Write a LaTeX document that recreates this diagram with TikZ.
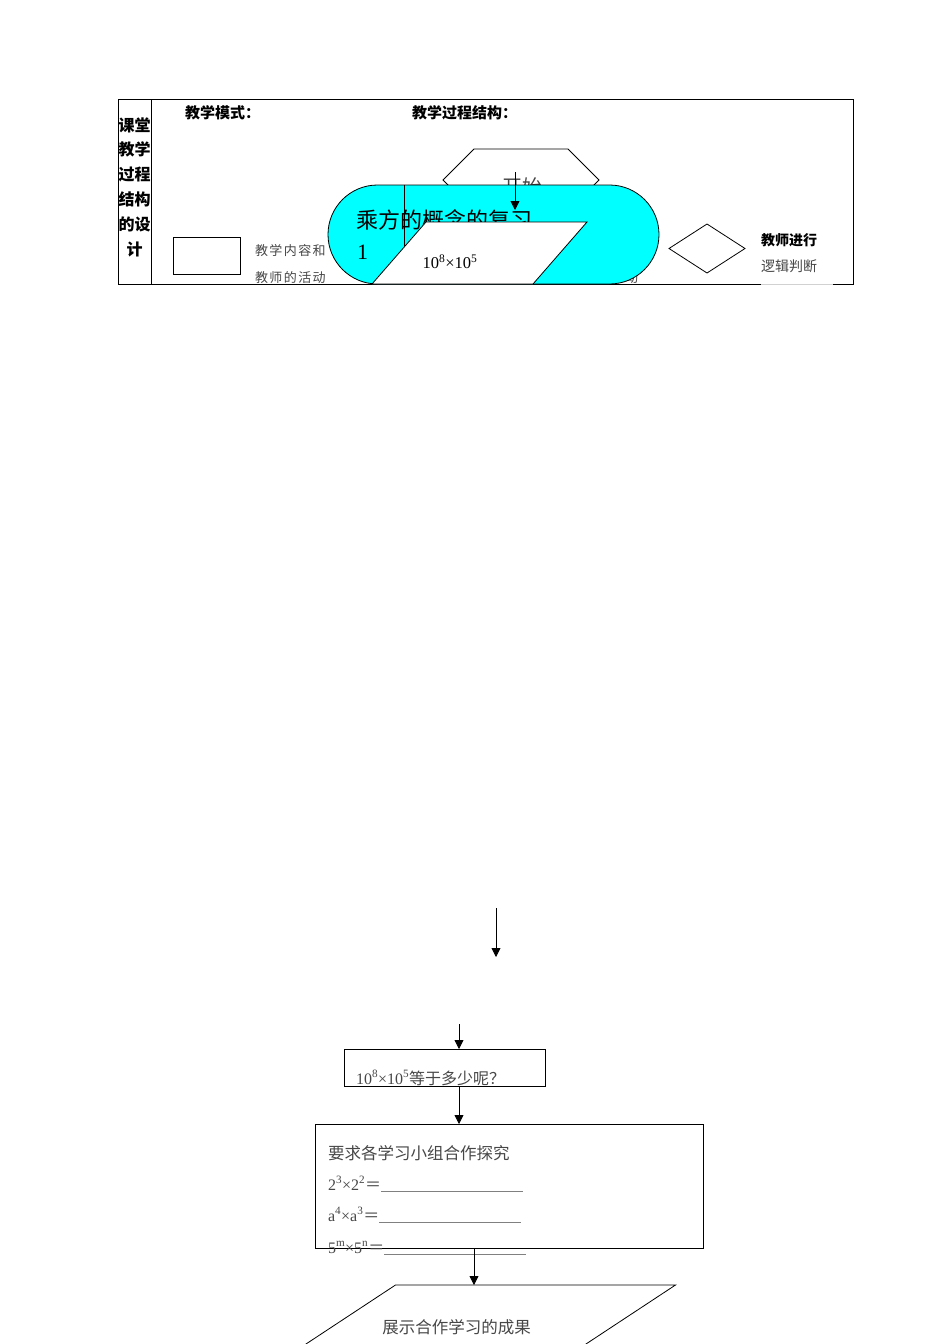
\documentclass[tikz,border=0pt]{standalone}
\usepackage{fontspec}
\setmainfont{Liberation Serif}
\newfontfamily\cjk{Noto Sans CJK SC}
\newfontfamily\cjksp{Noto Sans CJK SC}[LetterSpace=11]
\usetikzlibrary{shapes.geometric,shapes.misc,arrows.meta}
\definecolor{txtgray}{rgb}{0.28,0.28,0.28}
\definecolor{boxcyan}{rgb}{0,1,1}
\begin{document}
\begin{tikzpicture}[x=1pt,y=-1pt,
  line width=0.8pt,
  arr/.style={-{Triangle[length=9pt,width=9pt]},line width=0.8pt},
  plain/.style={inner sep=0pt,outer sep=0pt},
  legendtxt/.style={plain,anchor=west,text=txtgray,font=\cjksp\fontsize{13}{15}\selectfont},
  bodytxt/.style={plain,anchor=west,text=txtgray,font=\fontsize{16}{19}\selectfont},
  boldtxt/.style={plain,anchor=west,font=\cjk\bfseries\fontsize{15}{17}\selectfont}]
\clip (0,0) rectangle (950,1344);
\fill[white] (0,0) rectangle (950,1344);

% ---- table ----
\draw[line width=0.7pt] (118,99) rectangle (853,284);
\draw[line width=0.7pt] (151,99) -- (151,284);
\node[plain,align=center,font=\cjk\bfseries\fontsize{16}{24.8}\selectfont] (lefttitle) at (134.5,187)
  {课堂\\教学\\过程\\结构\\的设\\计};
\node[boldtxt] (mode) at (185,113) {教学模式：};
\node[boldtxt] (struct) at (412,113) {教学过程结构：};

% ---- hexagon (start) ----
\draw (474,149) -- (568,149) -- (599,180) -- (568,211) -- (474,211) -- (443,180) -- cycle;
\node[plain,text=txtgray,font=\cjk\fontsize{20}{22}\selectfont] (start) at (522,187) {开始};

% ---- hidden legend text under cyan ----
\node[legendtxt] (hid) at (625,278) {动};

% ---- cyan rounded box ----
\node[draw,fill=boxcyan,rounded rectangle,minimum width=331pt,minimum height=99pt,inner sep=0pt,line width=0.8pt] (cyanbox) at (493.5,234.5) {};
\coordinate (vx) at (404,0);
\draw (cyanbox.north -| vx) -- (cyanbox.south -| vx);
\node[plain,anchor=west,font=\cjk\fontsize{22}{24}\selectfont] (review) at (356,220) {乘方的概念的复习};
\node[plain,anchor=west,font=\fontsize{22}{24}\selectfont] (one) at (357,252) {1};

% ---- parallelogram 1 ----
\draw[fill=white] (426,222) -- (587,222) -- (533,284) -- (372,284) -- cycle;
\node[plain,font=\fontsize{16.5}{19}\selectfont] (expr1) at (450,262) {10\textsuperscript{8}×10\textsuperscript{5}};

% arrow from start into box
\coordinate (a1s) at (515,172);
\coordinate (a1e) at (515,210);
\draw[arr] (a1s) -- (a1e);

% ---- legend ----
\node[draw,plain,minimum width=67pt,minimum height=37pt,line width=0.8pt] (legrect) at (206.5,255.5) {};
\node[legendtxt] (leg1) at (255,251) {教学内容和};
\node[legendtxt] (leg2) at (255,278) {教师的活动};
\node[draw,diamond,plain,minimum width=76pt,minimum height=49pt,line width=0.8pt] (legdia) at (707,248.5) {};
\node[boldtxt,font=\cjk\bfseries\fontsize{14}{16}\selectfont] (leg3) at (761,240) {教师进行};
\node[legendtxt,font=\cjk\fontsize{14}{16}\selectfont] (leg4) at (761,266) {逻辑判断};
\draw[white!82!black,line width=1pt] (761,284) -- (833,284);

% ---- lower flow ----
\coordinate (b1s) at (496,908);
\coordinate (b1e) at (496,957);
\draw[arr] (b1s) -- (b1e);

\node[draw,plain,minimum width=201pt,minimum height=37pt,line width=0.8pt] (qbox) at (444.5,1067.5) {};
\coordinate (c2) at (459,0);
\coordinate (b2s) at (459,1024);
\draw[arr] (b2s) -- (qbox.north -| c2);
\node[plain,anchor=base west,text=txtgray,font=\fontsize{16}{19}\selectfont] (qtext) at (356,1084)
  {10\textsuperscript{8}×10\textsuperscript{5}{\cjk 等于多少呢？}};

\node[draw,plain,minimum width=388pt,minimum height=124pt,line width=0.8pt] (bigbox) at (509,1186) {};
\draw[arr] (qbox.south -| c2) -- (bigbox.north -| c2);

\node[bodytxt,font=\cjk\fontsize{16.5}{19}\selectfont] (t0) at (328,1153) {要求各学习小组合作探究};
\node[bodytxt,anchor=base west] (t1) at (328,1190)
  {2\textsuperscript{3}×2\textsuperscript{2}{\cjk ＝}\textcolor{gray}{\underline{\hspace{142pt}}}};
\node[bodytxt,anchor=base west] (t2) at (328,1221)
  {a\textsuperscript{4}×a\textsuperscript{3}{\cjk ＝}\textcolor{gray}{\underline{\hspace{142pt}}}};
\node[bodytxt,anchor=base west] (t3) at (328,1253)
  {5\textsuperscript{m}×5\textsuperscript{n}{\cjk ＝}\textcolor{gray}{\underline{\hspace{142pt}}}};

% ---- parallelogram 2 ----
\coordinate (p2a) at (395.5,1285);
\coordinate (p2b) at (675.5,1285);
\coordinate (p2c) at (501,1400);
\coordinate (p2d) at (221,1400);
\draw (p2a) -- (p2b) -- (p2c) -- (p2d) -- cycle;
\coordinate (c3) at (474,0);
\draw[arr] (bigbox.south -| c3) -- (p2a -| c3);
\node[plain,text=txtgray,font=\cjk\fontsize{16.5}{19}\selectfont] (show) at (456.5,1327) {展示合作学习的成果};
\end{tikzpicture}
\end{document}
